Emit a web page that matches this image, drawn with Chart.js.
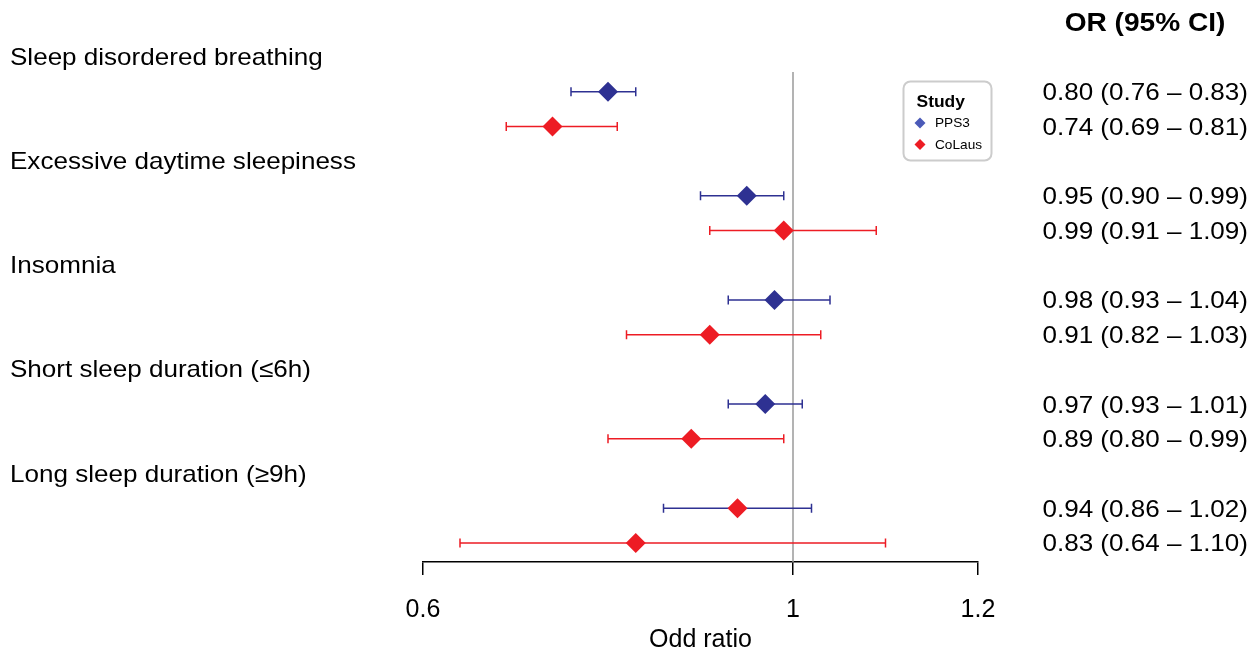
<!DOCTYPE html>
<html>
<head>
<meta charset="utf-8">
<script src="https://cdn.jsdelivr.net/npm/chart.js@4.4.1/dist/chart.umd.min.js"></script>
<style>
  html, body { margin: 0; padding: 0; background: #ffffff; }
  #wrap { width: 1260px; height: 652px; position: relative; }
</style>
</head>
<body>
<div id="wrap"><canvas id="c" width="1260" height="652"></canvas></div>
<script>
// ---------- data ----------
const categories = [
  "Sleep disordered breathing",
  "Excessive daytime sleepiness",
  "Insomnia",
  "Short sleep duration (\u22646h)",
  "Long sleep duration (\u22659h)"
];
const studies = ["PPS3", "CoLaus"];
const pps3OR = [0.80, 0.95, 0.98, 0.97, 0.94];
const pps3Lo = [0.76, 0.90, 0.93, 0.93, 0.86];
const pps3Hi = [0.83, 0.99, 1.04, 1.01, 1.02];
const colausOR = [0.74, 0.99, 0.91, 0.89, 0.83];
const colausLo = [0.69, 0.91, 0.82, 0.80, 0.64];
const colausHi = [0.81, 1.09, 1.03, 0.99, 1.10];
const xTicks = [0.6, 1, 1.2];
const refValue = 1;

// ---------- styles ----------
const BLUE = "#2E3192";
const RED = "#ED1C24";
const pps3PointColors = [BLUE, BLUE, BLUE, BLUE, RED];
const FONT = "'Liberation Sans', Arial, Helvetica, sans-serif";
const SX = 1.085; // horizontal stretch of the reference text

function fmt(v) { return v.toFixed(2); }
function sText(ctx, text, x, y, align, sx) {
  ctx.save();
  ctx.translate(x, y);
  ctx.scale(sx, 1);
  ctx.textAlign = align;
  ctx.fillText(text, 0, 0);
  ctx.restore();
}

// rows: header at 3g, PPS3 at 3g+1, CoLaus at 3g+2
const pps3Points = pps3OR.map((v, i) => ({ x: v, y: 3 * i + 1, lo: pps3Lo[i], hi: pps3Hi[i] }));
const colausPoints = colausOR.map((v, i) => ({ x: v, y: 3 * i + 2, lo: colausLo[i], hi: colausHi[i] }));

const forestPlugin = {
  id: 'forest',
  beforeDatasetsDraw(chart) {
    const { ctx, chartArea, scales: { x, y } } = chart;
    ctx.save();
    const rx = x.getPixelForValue(refValue);
    ctx.strokeStyle = "#9a9a9a";
    ctx.lineWidth = 1.5;
    ctx.beginPath();
    ctx.moveTo(rx, chartArea.top);
    ctx.lineTo(rx, chartArea.bottom);
    ctx.stroke();
    const drawBar = (pts, color) => {
      ctx.strokeStyle = color;
      ctx.lineWidth = 1.5;
      pts.forEach(p => {
        const py = y.getPixelForValue(p.y);
        const x1 = x.getPixelForValue(p.lo);
        const x2 = x.getPixelForValue(p.hi);
        ctx.beginPath();
        ctx.moveTo(x1, py); ctx.lineTo(x2, py);
        ctx.moveTo(x1, py - 4.5); ctx.lineTo(x1, py + 4.5);
        ctx.moveTo(x2, py - 4.5); ctx.lineTo(x2, py + 4.5);
        ctx.stroke();
      });
    };
    drawBar(pps3Points, BLUE);
    drawBar(colausPoints, RED);
    ctx.restore();
  },
  afterDraw(chart) {
    const { ctx, scales: { y } } = chart;
    ctx.save();
    ctx.fillStyle = "#000";
    ctx.textBaseline = "middle";
    // group labels
    ctx.font = "24px " + FONT;
    categories.forEach((c, i) => {
      sText(ctx, c, 10, y.getPixelForValue(3 * i) + 1.5, "left", SX);
    });
    // OR column
    const rows = [];
    pps3OR.forEach((v, i) => {
      rows.push([3 * i + 1, fmt(v) + " (" + fmt(pps3Lo[i]) + " \u2013 " + fmt(pps3Hi[i]) + ")"]);
      rows.push([3 * i + 2, fmt(colausOR[i]) + " (" + fmt(colausLo[i]) + " \u2013 " + fmt(colausHi[i]) + ")"]);
    });
    rows.forEach(r => sText(ctx, r[1], 1248, y.getPixelForValue(r[0]) + 1.8, "right", SX));
    // header
    ctx.font = "bold 26px " + FONT;
    sText(ctx, "OR (95% CI)", 1145, 24, "center", 1.08);

    // legend
    const lx = 903.5, ly = 81.5, lw = 88, lh = 79;
    ctx.beginPath();
    ctx.roundRect(lx, ly, lw, lh, 7);
    ctx.fillStyle = "#ffffff";
    ctx.fill();
    ctx.strokeStyle = "#cccccc";
    ctx.lineWidth = 2;
    ctx.stroke();
    ctx.fillStyle = "#000";
    ctx.font = "bold 16px " + FONT;
    sText(ctx, "Study", 916.5, 102.5, "left", 1.09);
    ctx.font = "13px " + FONT;
    const legColors = ["#4B5AB8", RED];
    studies.forEach((s, i) => {
      const cy = 123 + i * 21.5;
      ctx.fillStyle = legColors[i];
      ctx.beginPath();
      ctx.moveTo(920, cy - 5.5); ctx.lineTo(925.5, cy); ctx.lineTo(920, cy + 5.5); ctx.lineTo(914.5, cy);
      ctx.closePath(); ctx.fill();
      ctx.fillStyle = "#000";
      sText(ctx, s, 935, cy + 0.5, "left", 1.05);
    });
    ctx.restore();
  }
};

new Chart(document.getElementById('c'), {
  type: 'scatter',
  data: {
    datasets: [
      {
        label: studies[0],
        data: pps3Points,
        pointStyle: 'rectRot',
        pointRadius: 10,
        pointBackgroundColor: pps3PointColors,
        pointBorderColor: pps3PointColors,
        pointBorderWidth: 0
      },
      {
        label: studies[1],
        data: colausPoints,
        pointStyle: 'rectRot',
        pointRadius: 10,
        pointBackgroundColor: RED,
        pointBorderColor: RED,
        pointBorderWidth: 0
      }
    ]
  },
  options: {
    responsive: false,
    animation: false,
    events: [],
    layout: { padding: { left: 423, right: 282, top: 72, bottom: 0 } },
    plugins: { legend: { display: false }, tooltip: { enabled: false } },
    scales: {
      x: {
        type: 'linear',
        min: 0.6,
        max: 1.2,
        afterBuildTicks(scale) { scale.ticks = xTicks.map(v => ({ value: v })); },
        afterFit(scale) { scale.height = 90; },
        border: { display: true, color: '#000', width: 1.5 },
        grid: { drawOnChartArea: false, drawTicks: true, tickLength: 13, color: '#000', lineWidth: 1.5 },
        ticks: {
          color: '#000',
          font: { family: FONT, size: 25 },
          padding: 20,
          maxRotation: 0,
          autoSkip: false,
          callback: v => String(v)
        },
        title: {
          display: true,
          text: 'Odd ratio',
          color: '#000',
          font: { family: FONT, size: 25, lineHeight: 0.95 },
          padding: { top: 0, bottom: 0 }
        }
      },
      y: {
        type: 'linear',
        display: false,
        reverse: true,
        min: 0.432,
        max: 14.55
      }
    }
  },
  plugins: [forestPlugin]
});
</script>
</body>
</html>
